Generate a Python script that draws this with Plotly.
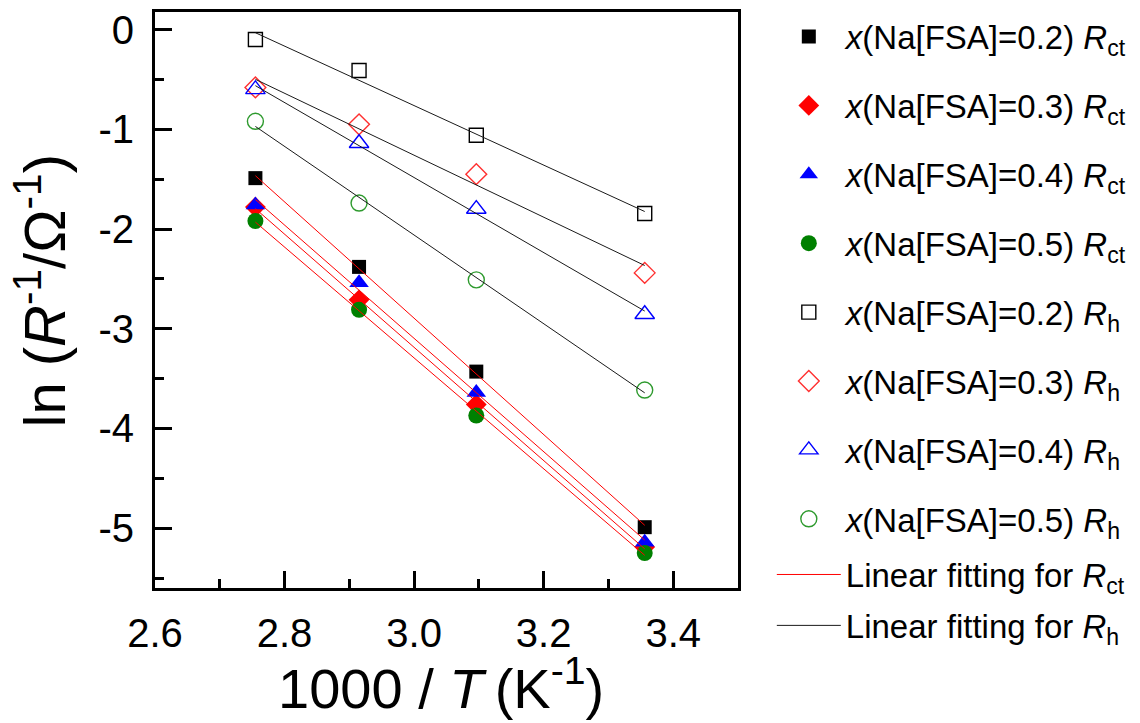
import numpy as np
import plotly.graph_objects as go

# 1000/T (K^-1) for the four measuring temperatures
inv_T = [2.755, 2.915, 3.096, 3.356]

# ln(R^-1 / Ohm^-1) of the charge-transfer resistance
rct_02 = [-1.49, -2.38, -3.43, -4.99]
rct_03 = [-1.78, -2.71, -3.76, -5.19]
rct_04 = [-1.76, -2.54, -3.64, -5.14]
rct_05 = [-1.92, -2.81, -3.87, -5.25]

# ln(R^-1 / Ohm^-1) of the high-frequency resistance
rh_02 = [-0.10, -0.41, -1.06, -1.845]
rh_03 = [-0.58, -0.95, -1.45, -2.44]
rh_04 = [-0.60, -1.14, -1.80, -2.855]
rh_05 = [-0.92, -1.74, -2.51, -3.615]

fractions = ["0.2", "0.3", "0.4", "0.5"]

y_tickvals = [-5, -4, -3, -2, -1, 0]
y_ticktext = ["-5", "-4", "-3", "-2", "-1", "0"]
x_tickvals = [2.6, 2.8, 3.0, 3.2, 3.4]
x_ticktext = ["2.6", "2.8", "3.0", "3.2", "3.4"]

FONT = "Liberation Sans, Arial, sans-serif"

filled = [
    (rct_02, "square", 14, "#000000"),
    (rct_03, "diamond", 16, "#ff0000"),
    (rct_04, "triangle-up", 17, "#0000ff"),
    (rct_05, "circle", 16, "#008000"),
]
hollow = [
    (rh_02, "square-open", 14, "#000000"),
    (rh_03, "diamond-open", 16, "#ff3030"),
    (rh_04, "triangle-up-open", 17, "#0000ff"),
    (rh_05, "circle-open", 16, "#2e9a2e"),
]

fig = go.Figure()

for i, (vals, sym, size, col) in enumerate(filled):
    fig.add_trace(go.Scatter(
        x=inv_T, y=vals, mode="markers",
        name=f"<i>x</i>(Na[FSA]={fractions[i]}) <i>R</i><sub>ct</sub>",
        legendgroup=f"ct{i}", legend="legend",
        marker=dict(symbol=sym, size=size, color=col, line=dict(width=0)),
    ))

for i, (vals, sym, size, col) in enumerate(hollow):
    fig.add_trace(go.Scatter(
        x=inv_T, y=vals, mode="markers",
        name=f"<i>x</i>(Na[FSA]={fractions[i]}) <i>R</i><sub>h</sub>",
        legendgroup=f"h{i}", legend="legend",
        marker=dict(symbol=sym, size=size, color=col, line=dict(width=1.4, color=col)),
    ))

# least-squares Arrhenius lines through each series
x_arr = np.array(inv_T)
fit_x = [x_arr.min(), x_arr.max()]

for i, (vals, _, _, _) in enumerate(filled):
    k, b = np.polyfit(x_arr, np.array(vals), 1)
    fig.add_trace(go.Scatter(
        x=fit_x, y=[k * fit_x[0] + b, k * fit_x[1] + b], mode="lines",
        name="Linear fitting for <i>R</i><sub>ct</sub>",
        legendgroup="fit_ct", legend="legend2", showlegend=(i == 0),
        line=dict(color="#ff0000", width=1),
    ))

for i, (vals, _, _, _) in enumerate(hollow):
    k, b = np.polyfit(x_arr, np.array(vals), 1)
    fig.add_trace(go.Scatter(
        x=fit_x, y=[k * fit_x[0] + b, k * fit_x[1] + b], mode="lines",
        name="Linear fitting for <i>R</i><sub>h</sub>",
        legendgroup="fit_h", legend="legend2", showlegend=(i == 0),
        line=dict(color="#1a1a1a", width=1),
    ))

axis_common = dict(
    showline=True, linecolor="black", linewidth=3, mirror=True,
    ticks="inside", ticklen=17, tickwidth=3, tickcolor="black",
    showgrid=False, zeroline=False,
    tickfont=dict(family=FONT, size=40, color="black"),
)

fig.update_xaxes(
    range=[2.6, 3.5], tickvals=x_tickvals, ticktext=x_ticktext,
    minor=dict(ticks="inside", ticklen=9, tickwidth=3, tickcolor="black", dtick=0.1, tick0=2.6),
    ticklabelstandoff=8,
    **axis_common,
)
fig.update_yaxes(
    range=[-5.6, 0.176], tickvals=y_tickvals, ticktext=y_ticktext,
    minor=dict(ticks="inside", ticklen=9, tickwidth=3, tickcolor="black", dtick=0.5, tick0=0),
    ticklabelstandoff=10,
    **axis_common,
)

fig.add_annotation(
    text="1000 / <i>T</i>\u2009(K<sup>-1</sup>)",
    font=dict(family=FONT, size=56, color="black"),
    xref="paper", yref="paper", x=0.49, y=-0.168,
    xanchor="center", yanchor="middle", showarrow=False,
)
fig.add_annotation(
    text="ln (<i>R</i><sup>-1</sup>/Ω<sup>-1</sup>)",
    font=dict(family=FONT, size=58, color="black"), textangle=-90,
    xref="paper", yref="paper", x=-0.197, y=0.515,
    xanchor="center", yanchor="middle", showarrow=False,
)

legend_common = dict(
    xanchor="left", yanchor="top",
    font=dict(family=FONT, size=33, color="black"),
    itemwidth=64, itemsizing="trace",
    bgcolor="rgba(0,0,0,0)", borderwidth=0, maxheight=723,
)

fig.update_layout(
    width=1140, height=723,
    margin=dict(l=155, r=402, t=12, b=135, autoexpand=False),
    paper_bgcolor="white", plot_bgcolor="white",
    font=dict(family=FONT, color="black"),
    showlegend=True,
    legend=dict(x=1.058, y=1.006, tracegroupgap=23, **legend_common),
    legend2=dict(x=1.058, y=0.072, tracegroupgap=5, **legend_common),
)

fig.write_html("out.html")
